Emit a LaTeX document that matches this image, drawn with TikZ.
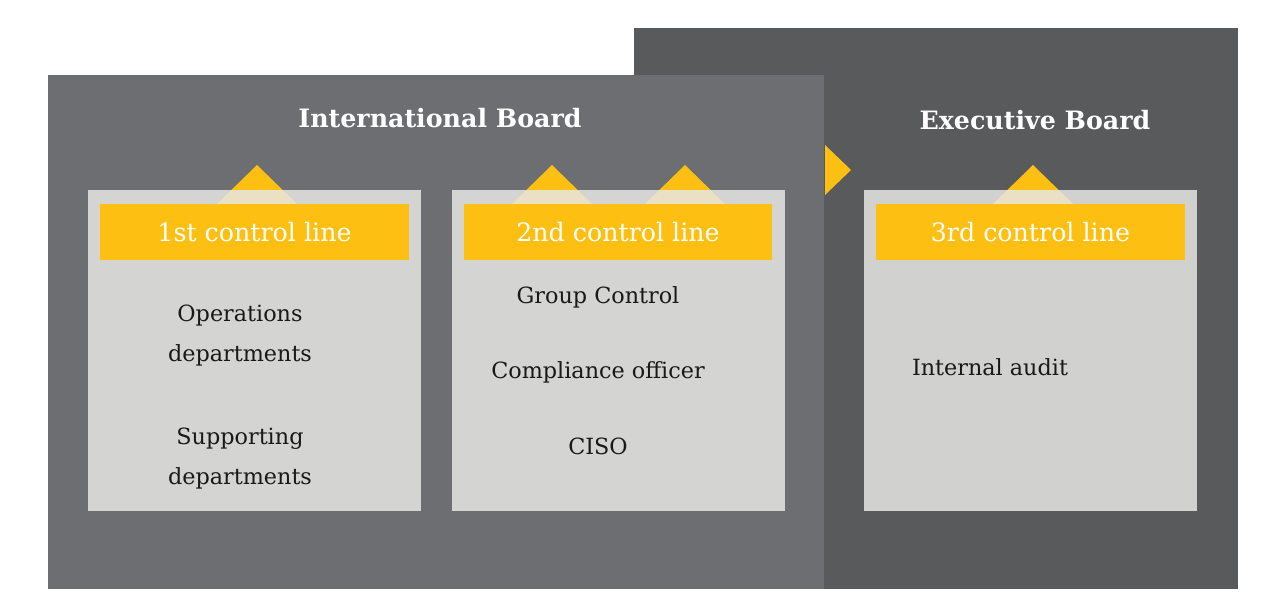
\documentclass[tikz,border=0pt]{standalone}
\usepackage{fontspec}
\setmainfont{DejaVu Serif}
\usetikzlibrary{positioning}
\usepackage{xcolor}
\definecolor{boardgray}{RGB}{109,110,113}
\definecolor{execgray}{RGB}{89,90,92}
\definecolor{panelgray}{RGB}{231,231,229}
\definecolor{ctrlyellow}{RGB}{253,191,18}

\begin{document}
\begin{tikzpicture}[x=0.02cm, y=-0.02cm,
  board/.style={rectangle, fill=#1, anchor=north west, inner sep=0pt},
  board/.default=boardgray,
  panel/.style={rectangle, fill=panelgray, fill opacity=0.85, anchor=north west, inner sep=0pt, minimum width=6.66cm, minimum height=6.42cm},
  header/.style={rectangle, fill=ctrlyellow, text=white, minimum width=6.18cm, minimum height=1.12cm, inner sep=0pt, font=\fontsize{14.4}{17}\selectfont},
  title/.style={text=white, font=\bfseries\fontsize{14.4}{17}\selectfont},
  item/.style={align=center, text=black!90, font=\fontsize{12.7}{23.2}\selectfont}]
  \useasboundingbox (0,0) rectangle (1286,614);
  % boards
  \node[board=execgray, minimum width=12.08cm, minimum height=11.22cm] (exec) at (634,28) {};
  \node[board, minimum width=15.52cm, minimum height=10.28cm] (intl) at (48,75) {};
  \node[title] (intltitle) at (440,118) {International Board};
  \node[title] (exectitle) at (1035,120) {Executive Board};
  % yellow arrows
  \fill[ctrlyellow] (825,145) -- (851,170) -- (825,195) -- cycle;
  \foreach \tx in {257,552,685,1033}
    \fill[ctrlyellow] (\tx-40,204) -- (\tx,165) -- (\tx+40,204) -- cycle;
  % control line panels
  \node[panel] (p1) at (88,190) {};
  \node[panel] (p2) at (452,190) {};
  \node[panel] (p3) at (864,190) {};
  \node[header] (h1) at (254.5,232) {1st control line};
  \node[header] (h2) at (618,232) {2nd control line};
  \node[header] (h3) at (1030.5,232) {3rd control line};
  % contents
  \node[item] (ops) at (240,335.5) {Operations\\departments};
  \node[item] (supp) at (240,458.5) {Supporting\\departments};
  \node[item] (group) at (598,297) {Group Control};
  \node[item] (compl) at (598,372) {Compliance officer};
  \node[item] (ciso) at (598,446) {CISO};
  \node[item] (audit) at (990,367) {Internal audit};
\end{tikzpicture}
\end{document}
